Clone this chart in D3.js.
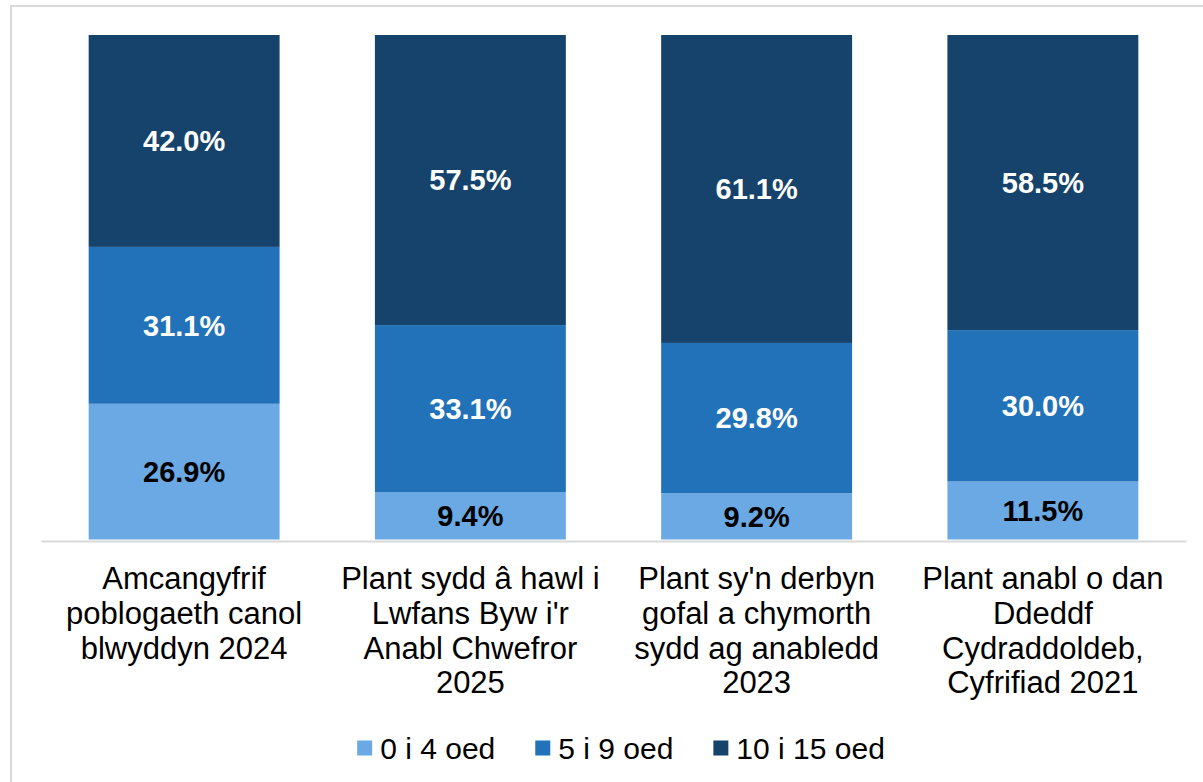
<!DOCTYPE html>
<html>
<head>
<meta charset="utf-8">
<script src="https://cdn.jsdelivr.net/npm/d3@7"></script>
<style>
  html, body { margin: 0; padding: 0; background: #fff; }
  svg { display: block; font-family: "Liberation Sans", Arial, sans-serif; }
</style>
</head>
<body>
<div id="chart"></div>
<script>
// data
categories = [
  ["Amcangyfrif", "poblogaeth canol", "blwyddyn 2024"],
  ["Plant sydd â hawl i", "Lwfans Byw i'r", "Anabl Chwefror", "2025"],
  ["Plant sy'n derbyn", "gofal a chymorth", "sydd ag anabledd", "2023"],
  ["Plant anabl o dan", "Ddeddf", "Cydraddoldeb,", "Cyfrifiad 2021"]
]
subgroups = ["0 i 4 oed", "5 i 9 oed", "10 i 15 oed"]
age0to4 = [26.9, 9.4, 9.2, 11.5]
age5to9 = [31.1, 33.1, 29.8, 30.0]
age10to15 = [42.0, 57.5, 61.1, 58.5]
color = ["#6aa9e3", "#2272ba", "#15436b"]
labelColor = ["#000000", "#ffffff", "#ffffff"]

width = 1203
height = 782
margin = ({top: 35, right: 17, bottom: 241, left: 41})

rows = categories.map((c, i) => ({
  idx: i,
  "0 i 4 oed": age0to4[i],
  "5 i 9 oed": age5to9[i],
  "10 i 15 oed": age10to15[i]
}))

stacked = d3.stack()
  .keys(subgroups)
  .offset(d3.stackOffsetExpand)(rows)

x = d3.scaleBand()
  .domain(d3.range(categories.length))
  .range([margin.left, width - margin.right])
  .paddingInner(0.333)
  .paddingOuter(0.1665)

y = d3.scaleLinear()
  .domain([0, 1])
  .range([height - margin.bottom - 1.5, margin.top])

var svg = d3.select("#chart").append("svg")
  .attr("width", width)
  .attr("height", height)
  .attr("viewBox", [0, 0, width, height])

// outer frame (only top/left edges visible in the window)
svg.append("rect")
  .attr("x", 11).attr("y", 6)
  .attr("width", 1400).attr("height", 1000)
  .attr("fill", "none")
  .attr("stroke", "#d9d9d9")
  .attr("stroke-width", 2)

const layer = svg.selectAll(".layer")
  .data(stacked)
  .enter().append("g")
  .attr("class", "layer")
  .attr("fill", (d, i) => color[i])

layer.selectAll("rect")
  .data(d => d)
  .enter().append("rect")
  .attr("x", d => x(d.data.idx))
  .attr("y", d => y(d[1]))
  .attr("width", x.bandwidth())
  .attr("height", d => y(d[0]) - y(d[1]))

// value labels
stacked.forEach((series, si) => {
  svg.append("g")
    .selectAll("text")
    .data(series)
    .enter().append("text")
    .attr("x", d => x(d.data.idx) + x.bandwidth() / 2)
    .attr("y", d => (y(d[0]) + y(d[1])) / 2)
    .attr("dy", "0.36em")
    .attr("text-anchor", "middle")
    .attr("fill", labelColor[si])
    .style("font-size", "29px")
    .style("font-weight", "bold")
    .text(d => d.data[series.key].toFixed(1) + "%")
})

// x axis
xAxis = d3.axisBottom(x).tickSize(0).tickFormat("")
const axisG = svg.append("g")
  .attr("transform", `translate(0,${height - margin.bottom})`)
  .call(xAxis)
axisG.select(".domain").attr("stroke", "#d9d9d9").attr("stroke-width", 2)

const catLabel = svg.append("g")
  .selectAll("text")
  .data(categories)
  .enter().append("text")
  .attr("text-anchor", "middle")
  .attr("fill", "#000")
  .style("font-size", "31px")

catLabel.selectAll("tspan")
  .data((d, i) => d.map(line => ({line, i})))
  .enter().append("tspan")
  .attr("x", d => x(d.i) + x.bandwidth() / 2)
  .attr("y", (d, j) => 589 + j * 34.8)
  .text(d => d.line)

// legend
legendBoxSize = 15
legendGap = 23
legendSpacing = 40
const legend = svg.append("g")
const entry = legend.selectAll(".entry")
  .data(subgroups)
  .enter().append("g")
  .attr("class", "entry")
entry.append("rect")
  .attr("width", legendBoxSize)
  .attr("height", legendBoxSize)
  .attr("y", -legendBoxSize / 2)
  .attr("fill", (d, i) => color[i])
entry.append("text")
  .attr("x", legendGap)
  .attr("dy", "0.36em")
  .style("font-size", "30px")
  .text(d => d)

let offset = 0
entry.each(function() {
  const w = legendGap + d3.select(this).select("text").node().getComputedTextLength()
  d3.select(this).attr("transform", `translate(${offset},0)`)
  offset += w + legendSpacing
})
const total = offset - legendSpacing
legend.attr("transform", `translate(${621 - total / 2},748)`)
</script>
</body>
</html>
